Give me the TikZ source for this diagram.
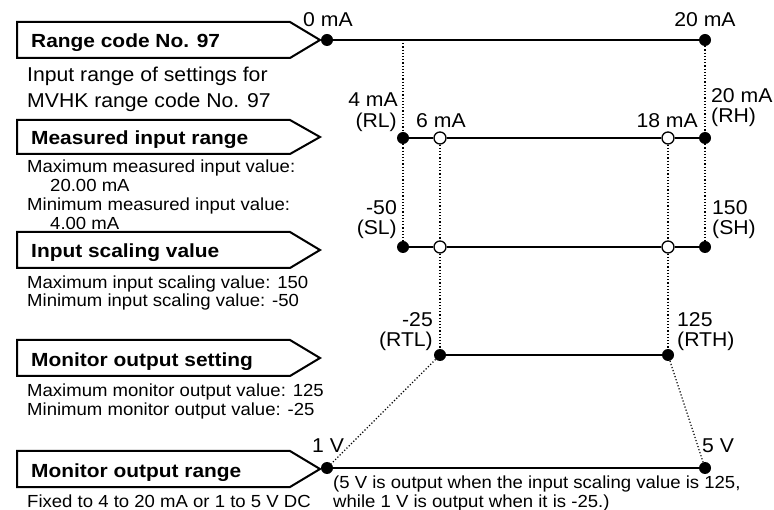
\documentclass[tikz,border=0pt]{standalone}
\usepackage{fontspec}
\setmainfont{Liberation Sans}[FakeStretch=1.06]
\newfontfamily\boldfam{Liberation Sans}[FakeStretch=1.1]
\tikzset{
  big/.style={font=\fontsize{20}{24}\selectfont, inner sep=0pt},
  small/.style={font=\fontsize{17.5}{19}\selectfont, inner sep=0pt},
  head/.style={font=\boldfam\bfseries\fontsize{19}{22}\selectfont, inner sep=0pt, anchor=base west},
  boxline/.style={line width=2pt, line join=miter},
  hline/.style={line width=2.5pt},
  dotline/.style={line width=1.2pt, dash pattern=on 1.2pt off 2pt},
  fdot/.style={circle, fill=black, inner sep=0pt, minimum size=12pt},
  odot/.style={circle, draw=black, fill=white, line width=1.3pt, inner sep=0pt, minimum size=12pt},
}
\begin{document}
\begin{tikzpicture}[x=1pt,y=-1pt]
\useasboundingbox (0,0) rectangle (774,510);

% ---- left arrow boxes ----
\draw[boxline] (17,22) -- (290,22) -- (320,40) -- (290,58) -- (17,58) -- cycle;
\draw[boxline] (17,120) -- (290,120) -- (320,137) -- (290,154) -- (17,154) -- cycle;
\draw[boxline] (17,232) -- (290,232) -- (320,250) -- (290,268) -- (17,268) -- cycle;
\draw[boxline] (17,340) -- (290,340) -- (320,358) -- (290,376) -- (17,376) -- cycle;
\draw[boxline] (17,451) -- (290,451) -- (320,469) -- (290,487) -- (17,487) -- cycle;

\node[head] (h1) at (31,48) {Range code No. 97};
\node[head] (h2) at (31,145) {Measured input range};
\node[head] (h3) at (31,258) {Input scaling value};
\node[head] (h4) at (31,367) {Monitor output setting};
\node[head] (h5) at (31,478) {Monitor output range};

% ---- left descriptions ----
\node[big, anchor=base west] (t1a) at (27,82) {Input range of settings for};
\node[big, anchor=base west] (t1b) at (27,108) {MVHK range code No. 97};
\node[small, anchor=base west] (t2a) at (27,173) {Maximum measured input value:};
\node[small, anchor=base west] (t2b) at (50,192) {20.00 mA};
\node[small, anchor=base west] (t2c) at (27,211) {Minimum measured input value:};
\node[small, anchor=base west] (t2d) at (50,230) {4.00 mA};
\node[small, anchor=base west] (t3a) at (27,289) {Maximum input scaling value: 150};
\node[small, anchor=base west] (t3b) at (27,307) {Minimum input scaling value: -50};
\node[small, anchor=base west] (t4a) at (27,397) {Maximum monitor output value: 125};
\node[small, anchor=base west] (t4b) at (27,416) {Minimum monitor output value: -25};
\node[small, anchor=base west] (t5a) at (27,507) {Fixed to 4 to 20 mA or 1 to 5 V DC};

% ---- points ----
\node[fdot] (a1) at (327,40) {};
\node[fdot] (a2) at (705,40) {};
\coordinate (a3) at (403,40);

\node[fdot] (b1) at (403,138) {};
\node[odot] (b2) at (440,138) {};
\node[odot] (b3) at (668,138) {};
\node[fdot] (b4) at (705,138) {};

\node[fdot] (c1) at (403,247) {};
\node[odot] (c2) at (440,247) {};
\node[odot] (c3) at (668,247) {};
\node[fdot] (c4) at (705,247) {};

\node[fdot] (d1) at (440,355) {};
\node[fdot] (d2) at (668,355) {};

\node[fdot] (e1) at (327,468) {};
\node[fdot] (e2) at (705,468) {};

% ---- solid lines ----
\draw[hline] (a1) -- (a2);
\draw[hline] (b1) -- (b2);
\draw[hline] (b2) -- (b3);
\draw[hline] (b3) -- (b4);
\draw[hline] (c1) -- (c2);
\draw[hline] (c2) -- (c3);
\draw[hline] (c3) -- (c4);
\draw[hline] (d1) -- (d2);
\draw[hline] (e1) -- (e2);

% ---- dotted guides ----
\draw[dotline] (a3) -- (b1);
\draw[dotline] (a2) -- (b4);
\draw[dotline] (b1) -- (c1);
\draw[dotline] (b2) -- (c2);
\draw[dotline] (b3) -- (c3);
\draw[dotline] (b4) -- (c4);
\draw[dotline] (c2) -- (d1);
\draw[dotline] (c3) -- (d2);
\draw[dotline] (d1) -- (e1);
\draw[dotline] (d2) -- (e2);

% ---- value labels ----
\node[big, anchor=base west] (l0) at (303,27) {0 mA};
\node[big, anchor=base] (l20) at (705,27) {20 mA};
\node[big, anchor=base east] (l4) at (398,107) {4 mA};
\node[big, anchor=base east] (lrl) at (397,128) {(RL)};
\node[big, anchor=base west] (l6) at (416,128) {6 mA};
\node[big, anchor=base east] (l18) at (698,128) {18 mA};
\node[big, anchor=base west] (l20b) at (711,103) {20 mA};
\node[big, anchor=base west] (lrh) at (711,123) {(RH)};
\node[big, anchor=base east] (lm50) at (397,215) {-50};
\node[big, anchor=base east] (lsl) at (397,235) {(SL)};
\node[big, anchor=base west] (l150) at (712,215) {150};
\node[big, anchor=base west] (lsh) at (712,235) {(SH)};
\node[big, anchor=base east] (lm25) at (433,327) {-25};
\node[big, anchor=base east] (lrtl) at (433,347) {(RTL)};
\node[big, anchor=base west] (l125) at (677,327) {125};
\node[big, anchor=base west] (lrth) at (677,347) {(RTH)};
\node[big, anchor=base west] (l1v) at (312,453) {1 V};
\node[big, anchor=base west] (l5v) at (702,453) {5 V};
\node[small, anchor=base west] (n1) at (333,489) {(5 V is output when the input scaling value is 125,};
\node[small, anchor=base west] (n2) at (333,507) {while 1 V is output when it is -25.)};
\end{tikzpicture}
\end{document}
